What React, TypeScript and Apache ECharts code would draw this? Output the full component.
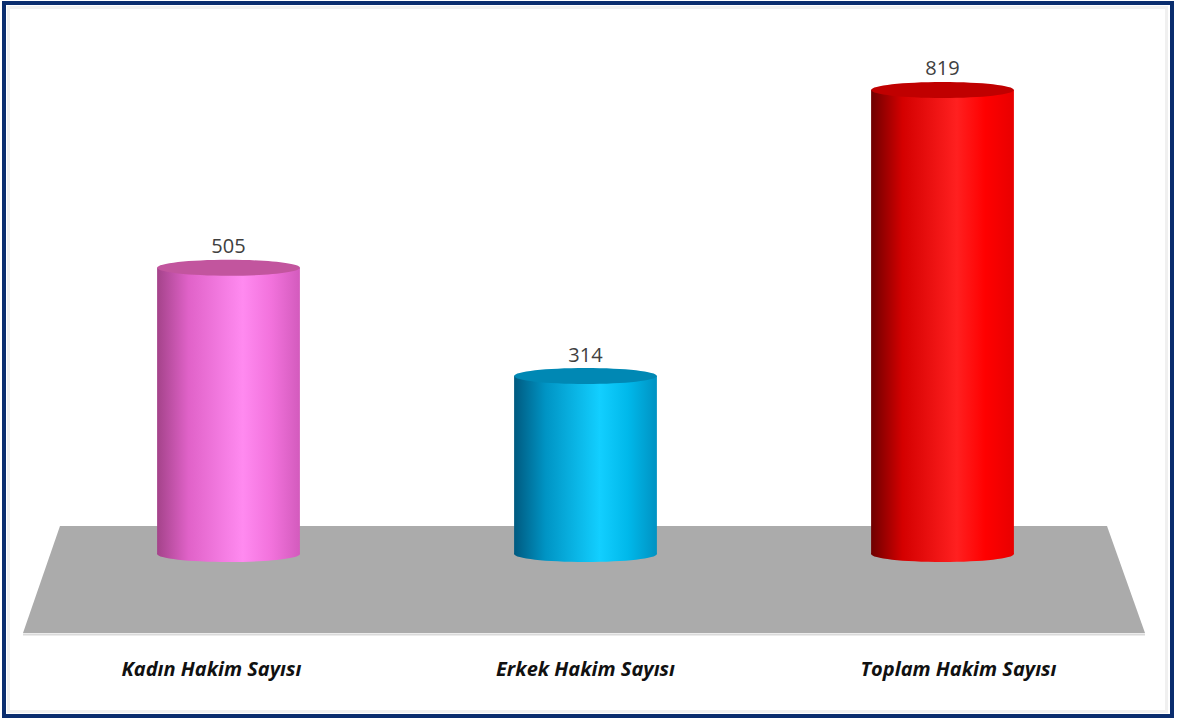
import React, { useEffect, useRef } from "react";
import * as echarts from "echarts";

const categories = ["Kadın Hakim Sayısı", "Erkek Hakim Sayısı", "Toplam Hakim Sayısı"];
const values = [505, 314, 819];

// [left shade, mid, highlight, after highlight, right edge], top colour
const sidePalettes = [
  ["#a4438a", "#e062c8", "#ff8af0", "#f272dc", "#d35bbd"],
  ["#005a80", "#0094c4", "#12cfff", "#00b8ea", "#0092c2"],
  ["#6e0000", "#d40000", "#ff2020", "#ff0000", "#e80000"],
];
const topColors = ["#c2559e", "#0088b4", "#c00000"];

const FONT = "'Open Sans', 'Noto Sans', 'Liberation Sans', sans-serif";

export default function App() {
  const ref = useRef<HTMLDivElement>(null);
  useEffect(() => {
    if (!ref.current) return;
    const chart = echarts.init(ref.current, null, { renderer: "svg" });
    const labelStyle = {
      fontSize: 20,
      fontStyle: "italic",
      fontWeight: "bold",
      color: "#111111",
      fontFamily: FONT,
    };
    const option: any = {
      animation: false,
      backgroundColor: "#ffffff",
      grid: { left: 50, right: 56, top: 44, bottom: 165 },
      xAxis: {
        type: "category",
        data: categories,
        axisLine: { show: false },
        axisTick: { show: false },
        splitLine: { show: false },
        axisLabel: {
          margin: 104,
          ...labelStyle,
          formatter: (val: string, i: number) =>
            i === 0 ? `{l|${val}}` : i === 2 ? `{r|${val}}` : `{c|${val}}`,
          rich: {
            l: { ...labelStyle, padding: [0, 34, 0, 0] },
            c: { ...labelStyle },
            r: { ...labelStyle, padding: [0, 0, 0, 32] },
          },
        },
      },
      yAxis: {
        type: "value",
        min: 0,
        max: 900,
        show: false,
        splitLine: { show: false },
      },
      graphic: [
        {
          type: "polygon",
          z: 0,
          shape: { points: [[60, 526], [1107, 526], [1145, 633], [23, 633]] },
          style: { fill: "#ababab" },
        },
        {
          type: "line",
          z: 0,
          shape: { x1: 23, y1: 634.5, x2: 1145, y2: 634.5 },
          style: { stroke: "#dadada", lineWidth: 2 },
        },
        {
          type: "rect",
          z: 0,
          shape: { x: 8.5, y: 7.5, width: 1158, height: 704 },
          style: { fill: "none", stroke: "#f0f0f0", lineWidth: 3 },
        },
        {
          type: "rect",
          z: 0,
          shape: { x: 4, y: 3, width: 1168, height: 713 },
          style: { fill: "none", stroke: "#0a2d6e", lineWidth: 4 },
        },
      ],
      series: [
        {
          type: "custom",
          z: 5,
          data: values.map((v, i) => [i, v]),
          encode: { x: 0, y: 1 },
          renderItem: (params: any, api: any) => {
            const idx = params.dataIndex;
            const v = api.value(1);
            const top = api.coord([api.value(0), v]);
            const base = api.coord([api.value(0), 0]);
            const w = api.size([1, 0])[0] * 0.4;
            const rx = w / 2;
            const ry = 8;
            const p = sidePalettes[idx];
            const grad = new echarts.graphic.LinearGradient(0, 0, 1, 0, [
              { offset: 0, color: p[0] },
              { offset: 0.22, color: p[1] },
              { offset: 0.6, color: p[2] },
              { offset: 0.8, color: p[3] },
              { offset: 1, color: p[4] },
            ]);
            return {
              type: "group",
              children: [
                {
                  type: "ellipse",
                  shape: { cx: base[0], cy: base[1], rx, ry },
                  style: { fill: grad },
                },
                {
                  type: "rect",
                  shape: { x: top[0] - rx, y: top[1], width: w, height: base[1] - top[1] },
                  style: { fill: grad },
                },
                {
                  type: "ellipse",
                  shape: { cx: top[0], cy: top[1], rx, ry },
                  style: { fill: topColors[idx] },
                },
                {
                  type: "text",
                  x: top[0],
                  y: top[1] - ry - 4,
                  style: {
                    text: String(v),
                    align: "center",
                    verticalAlign: "bottom",
                    fontSize: 20,
                    fontFamily: FONT,
                    fill: "#404040",
                  },
                },
              ],
            };
          },
        },
      ],
    };
    chart.setOption(option);
    return () => chart.dispose();
  }, []);
  return (
    <div
      ref={ref}
      style={{ position: "fixed", left: 0, top: 0, width: 1177, height: 719, background: "#fff" }}
    />
  );
}
